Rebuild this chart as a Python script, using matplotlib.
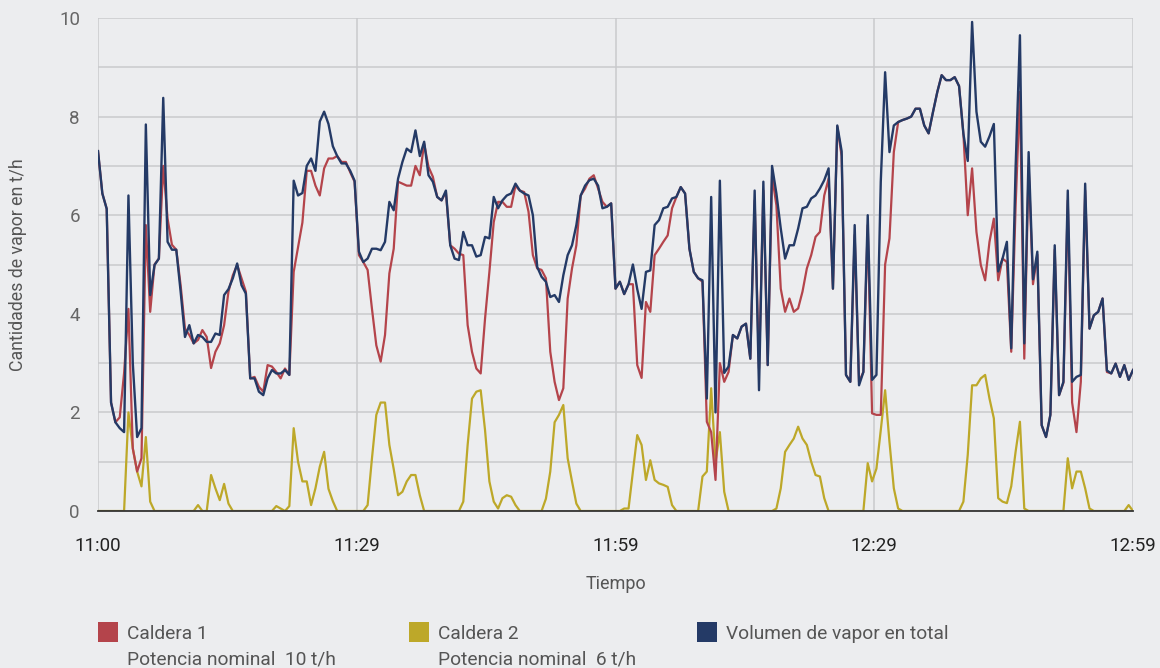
import matplotlib
matplotlib.use("Agg")
import matplotlib.pyplot as plt
from matplotlib.patches import Rectangle
import numpy as np

plt.rcParams['font.family'] = ['Roboto', 'DejaVu Sans']

# minutos desde las 11:00, una lectura cada 30 s
minutos = np.arange(0, 119.5, 0.5)

total = [
    7.3, 6.44, 6.13, 2.2, 1.8, 1.68, 1.6, 6.4, 3.0, 1.5,
    1.68, 7.84, 4.38, 4.99, 5.12, 8.38, 5.46, 5.3, 5.3, 4.45,
    3.53, 3.77, 3.4, 3.57, 3.53, 3.43, 3.43, 3.6, 3.57, 4.38,
    4.5, 4.72, 5.02, 4.58, 4.41, 2.69, 2.69, 2.42, 2.35, 2.69,
    2.86, 2.79, 2.79, 2.86, 2.76, 6.7, 6.4, 6.45, 7.0, 7.15,
    6.9, 7.9, 8.1, 7.85, 7.4, 7.2, 7.05, 7.05, 6.9, 6.7,
    5.26, 5.05, 5.12, 5.32, 5.32, 5.29, 5.46, 6.27, 6.1, 6.74,
    7.08, 7.35, 7.28, 7.72, 7.2, 7.49, 6.81, 6.68, 6.37, 6.3,
    6.5, 5.39, 5.12, 5.09, 5.66, 5.39, 5.39, 5.16, 5.19, 5.56,
    5.53, 6.37, 6.14, 6.3, 6.4, 6.44, 6.64, 6.5, 6.44, 6.4,
    6.0, 4.95, 4.75, 4.65, 4.34, 4.38, 4.24, 4.78, 5.19, 5.39,
    5.8, 6.4, 6.6, 6.71, 6.74, 6.6, 6.14, 6.17, 6.24, 4.51,
    4.65, 4.4, 4.6, 5.0, 4.5, 4.1, 4.85, 4.88, 5.8, 5.9,
    6.14, 6.17, 6.34, 6.37, 6.57, 6.44, 5.32, 4.85, 4.72, 4.68,
    2.28, 6.37, 2.0, 6.7, 2.8, 2.93, 3.57, 3.5, 3.74, 3.8,
    3.09, 6.5, 2.45, 6.68, 2.96, 7.0, 6.44, 5.73, 5.12, 5.39,
    5.39, 5.73, 6.14, 6.17, 6.34, 6.4, 6.54, 6.71, 6.95, 4.51,
    7.82, 7.3, 2.76, 2.62, 5.8, 2.55, 2.82, 6.0, 2.66, 2.76,
    6.68, 8.9, 7.28, 7.82, 7.89, 7.93, 7.96, 8.0, 8.16, 8.16,
    7.82, 7.66, 8.09, 8.5, 8.84, 8.74, 8.74, 8.8, 8.62, 7.65,
    7.1, 9.92, 8.1, 7.49, 7.39, 7.6, 7.85, 4.86, 5.12, 5.46,
    3.3, 6.95, 9.65, 3.4, 7.28, 4.7, 5.26, 1.74, 1.5, 1.95,
    5.39, 2.35, 2.62, 6.5, 2.62, 2.72, 2.76, 6.64, 3.7, 3.97,
    4.04, 4.31, 2.85, 2.79, 2.99, 2.72, 2.96, 2.66, 2.86,
]

caldera1 = [
    7.3, 6.44, 6.13, 2.2, 1.8, 1.9, 2.8, 4.1, 1.27, 0.8,
    1.07, 5.8, 4.04, 5.0, 5.12, 7.0, 5.93, 5.4, 5.3, 4.58,
    3.7, 3.57, 3.4, 3.47, 3.67, 3.53, 2.9, 3.23, 3.4, 3.77,
    4.45, 4.78, 4.99, 4.72, 4.45, 2.69, 2.72, 2.52, 2.42, 2.96,
    2.93, 2.82, 2.69, 2.89, 2.76, 4.85, 5.35, 5.85, 6.9, 6.9,
    6.6, 6.4, 6.95, 7.15, 7.15, 7.2, 7.08, 7.08, 6.87, 6.68,
    5.19, 5.05, 4.89, 4.1, 3.36, 3.03, 3.57, 4.82, 5.32, 6.68,
    6.64, 6.6, 6.6, 7.0, 6.81, 7.45, 6.98, 6.78, 6.37, 6.3,
    6.47, 5.39, 5.32, 5.22, 5.19, 3.77, 3.23, 2.89, 2.79, 3.9,
    4.85, 5.86, 6.27, 6.27, 6.17, 6.17, 6.6, 6.5, 6.47, 6.07,
    5.19, 4.92, 4.89, 4.72, 3.23, 2.62, 2.25, 2.49, 4.31, 4.92,
    5.39, 6.4, 6.54, 6.74, 6.81, 6.54, 6.27, 6.17, 6.24, 4.51,
    4.65, 4.4, 4.6, 4.6, 2.96, 2.7, 4.24, 4.04, 5.19, 5.32,
    5.46, 5.59, 6.14, 6.37, 6.57, 6.44, 5.32, 4.85, 4.72, 4.65,
    1.81, 1.6, 0.63, 3.0, 2.62, 2.82, 3.57, 3.5, 3.74, 3.8,
    3.09, 6.3, 2.89, 6.5, 2.96, 6.8, 6.2, 4.51, 4.04, 4.31,
    4.04, 4.11, 4.45, 4.92, 5.19, 5.56, 5.66, 6.4, 6.74, 4.51,
    7.8, 7.2, 2.76, 2.62, 5.6, 2.62, 2.82, 5.8, 1.98, 1.95,
    1.95, 5.0, 5.53, 7.28, 7.89, 7.93, 7.96, 8.0, 8.16, 8.16,
    7.82, 7.66, 8.09, 8.5, 8.84, 8.74, 8.74, 8.8, 8.62, 7.65,
    6.0, 6.95, 5.66, 4.99, 4.68, 5.46, 5.93, 4.68, 5.12, 5.05,
    3.23, 6.17, 8.5, 3.09, 7.0, 4.6, 5.2, 1.74, 1.5, 1.95,
    5.3, 2.35, 2.6, 6.3, 2.2, 1.6, 2.62, 6.5, 3.7, 3.97,
    4.04, 4.31, 2.82, 2.79, 2.99, 2.72, 2.96, 2.66, 2.86,
]

caldera2 = [
    0, 0, 0, 0, 0, 0, 0, 2.0, 1.27, 0.8,
    0.5, 1.5, 0.19, 0, 0, 0, 0, 0, 0, 0,
    0, 0, 0, 0.12, 0, 0, 0.73, 0.46, 0.22, 0.55,
    0.15, 0, 0, 0, 0, 0, 0, 0, 0, 0,
    0, 0.1, 0.05, 0, 0.1, 1.68, 1.0, 0.6, 0.6, 0.12,
    0.46, 0.9, 1.2, 0.45, 0.2, 0, 0, 0, 0, 0,
    0, 0, 0.12, 1.07, 1.95, 2.2, 2.2, 1.34, 0.85, 0.32,
    0.39, 0.6, 0.73, 0.73, 0.32, 0, 0, 0, 0, 0,
    0, 0, 0, 0, 0.19, 1.34, 2.28, 2.42, 2.45, 1.64,
    0.6, 0.19, 0.05, 0.26, 0.32, 0.29, 0.12, 0, 0, 0,
    0, 0, 0, 0.25, 0.8, 1.8, 1.95, 2.15, 1.07, 0.6,
    0.15, 0, 0, 0, 0, 0, 0, 0, 0, 0,
    0, 0.05, 0.05, 0.8, 1.54, 1.34, 0.63, 1.03, 0.63, 0.56,
    0.53, 0.49, 0.12, 0, 0, 0, 0, 0, 0, 0.7,
    0.8, 2.49, 1.0, 1.6, 0.39, 0, 0, 0, 0, 0,
    0, 0, 0, 0, 0, 0, 0.05, 0.46, 1.2, 1.34,
    1.47, 1.71, 1.47, 1.34, 1.0, 0.73, 0.7, 0.26, 0, 0,
    0, 0, 0, 0, 0, 0, 0, 0.97, 0.6, 0.86,
    1.64, 2.45, 1.4, 0.46, 0.05, 0, 0, 0, 0, 0,
    0, 0, 0, 0, 0, 0, 0, 0, 0, 0.19,
    1.14, 2.55, 2.55, 2.69, 2.76, 2.28, 1.88, 0.26, 0.19, 0.16,
    0.5, 1.2, 1.81, 0.05, 0, 0, 0, 0, 0, 0,
    0, 0, 0, 1.07, 0.46, 0.8, 0.8, 0.46, 0.05, 0,
    0, 0, 0, 0, 0, 0, 0, 0.12, 0,
]

tick_pos = [0, 29.75, 59.5, 89.25, 119]
tick_labels = ['11:00', '11:29', '11:59', '12:29', '12:59']
y_ticks = list(range(11))

serie_nombres = ['Caldera 1', 'Caldera 2', 'Volumen de vapor en total']
serie_sub = ['Potencia nominal  10 t/h', 'Potencia nominal  6 t/h', '']
colores = ['#b4444b', '#bda829', '#243a66']

bg = '#ecedef'
W, H = 1160, 668

fig = plt.figure(figsize=(W / 100, H / 100), dpi=100, facecolor=bg)
ax = fig.add_axes([98 / W, 1 - 511 / H, (1133 - 98) / W, (511 - 18) / H])
ax.set_facecolor(bg)

ax.plot(minutos, caldera2, color=colores[1], lw=1.6, zorder=3)
ax.plot(minutos, caldera1, color=colores[0], lw=1.6, zorder=4)
ax.plot(minutos, total, color=colores[2], lw=1.7, zorder=5)

ax.set_xlim(0, 119)
ax.set_ylim(0, 10)
ax.set_xticks(tick_pos)
ax.set_xticklabels(tick_labels)
ax.set_yticks(y_ticks)
ax.set_yticklabels([str(v) if v % 2 == 0 else '' for v in y_ticks])
ax.grid(True, color='#c9cacd', lw=1.1)
ax.set_axisbelow(True)
ax.tick_params(axis='both', length=0, labelsize=13.5, colors='#666666')
ax.tick_params(axis='y', pad=13)
ax.tick_params(axis='x', pad=19, colors='#222222')
for s in ['left', 'right', 'top']:
    ax.spines[s].set_visible(False)
ax.spines['bottom'].set_color('#333333')
ax.spines['bottom'].set_linewidth(1.3)
ax.spines['bottom'].set_zorder(6)

ax.set_xlabel('Tiempo', fontsize=13, color='#555555', labelpad=14)
fig.text(18 / W, 1 - 265 / H, 'Cantidades de vapor en t/h', rotation=90,
         ha='center', va='center', fontsize=12.8, color='#555555')

# leyenda
leg_x = [98, 409, 697]
for x0, nom, sub, c in zip(leg_x, serie_nombres, serie_sub, colores):
    fig.add_artist(Rectangle((x0 / W, 1 - 642 / H), 20 / W, 20 / H,
                             transform=fig.transFigure, color=c, lw=0))
    fig.text((x0 + 29) / W, 1 - 634 / H, nom, ha='left', va='center',
             fontsize=13.8, color='#555555')
    if sub:
        fig.text((x0 + 29) / W, 1 - 660 / H, sub, ha='left', va='center',
                 fontsize=13.8, color='#555555')

fig.savefig('out.png', dpi=100, facecolor=bg)
